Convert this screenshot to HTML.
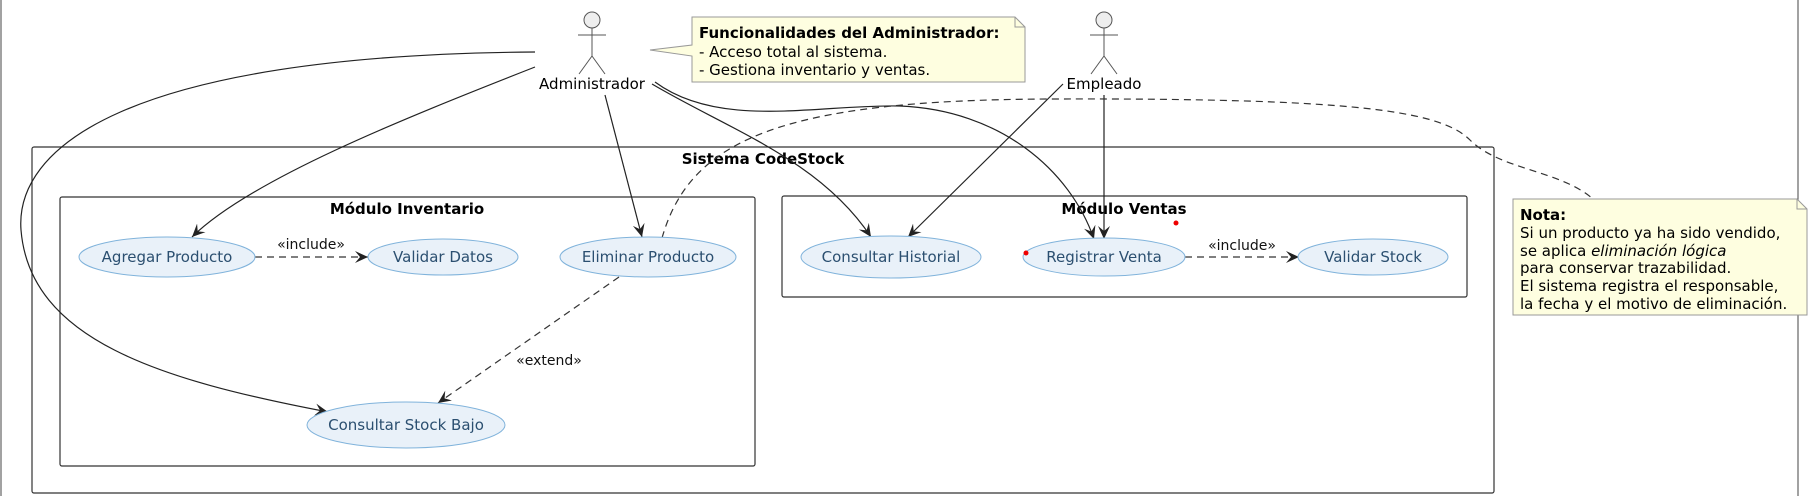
<!DOCTYPE html>
<html><head><meta charset="utf-8"><style>
html,body{margin:0;padding:0;background:#fff;}
svg{display:block;font-family:"DejaVu Sans","Liberation Sans",sans-serif;}
.uc{fill:#e9f1f9;stroke:#80b3db;stroke-width:1;}
.ut{fill:#2b4f70;font-size:15px;text-anchor:middle;}
.ln{fill:none;stroke:#222;stroke-width:1.2;}
.ds{fill:none;stroke:#333;stroke-width:1.2;stroke-dasharray:7,5;}
.lbl{font-size:14px;fill:#111;text-anchor:middle;}
</style></head><body>
<svg width="1813" height="496" viewBox="0 0 1813 496" xmlns="http://www.w3.org/2000/svg">
<defs>
<marker id="a" markerWidth="16" markerHeight="14" refX="13" refY="6" orient="auto" markerUnits="userSpaceOnUse">
<path d="M0,0 L13,6 L0,12 L5,6 z" fill="#222"/>
</marker>
</defs>
<line x1="1" y1="0" x2="1" y2="496" stroke="#444"/>
<line x1="1798" y1="0" x2="1798" y2="496" stroke="#444"/>

<rect x="32" y="147" width="1462" height="346" rx="2" fill="none" stroke="#333" stroke-width="1.2"/>
<text x="763" y="164" font-size="15" font-weight="bold" text-anchor="middle">Sistema CodeStock</text>
<rect x="60" y="197" width="695" height="269" rx="2" fill="none" stroke="#333" stroke-width="1.2"/>
<text x="407" y="214" font-size="15" font-weight="bold" text-anchor="middle">Módulo Inventario</text>
<rect x="782" y="196" width="685" height="101" rx="2" fill="none" stroke="#333" stroke-width="1.2"/>
<text x="1124" y="214" font-size="15" font-weight="bold" text-anchor="middle">Módulo Ventas</text>

<g stroke="#555" stroke-width="1" fill="none">
<circle cx="592" cy="20" r="8" fill="#eee"/>
<line x1="592" y1="28" x2="592" y2="56"/><line x1="578" y1="35" x2="606" y2="35"/>
<line x1="592" y1="56" x2="579" y2="74"/><line x1="592" y1="56" x2="605" y2="74"/>
<circle cx="1104" cy="20" r="8" fill="#eee"/>
<line x1="1104" y1="28" x2="1104" y2="56"/><line x1="1090" y1="35" x2="1118" y2="35"/>
<line x1="1104" y1="56" x2="1091" y2="74"/><line x1="1104" y1="56" x2="1117" y2="74"/>
</g>
<text x="592" y="89" font-size="15" text-anchor="middle">Administrador</text>
<text x="1104" y="89" font-size="15" text-anchor="middle">Empleado</text>

<path d="M692,17 L1015,17 L1025,27 L1025,82 L692,82 L692,56 L650,50 L692,45 Z" fill="#fefee0" stroke="#999"/>
<path d="M1015,17 L1015,27 L1025,27" fill="none" stroke="#999"/>
<text x="699" y="38" font-size="15" font-weight="bold">Funcionalidades del Administrador:</text>
<text x="699" y="57" font-size="15">- Acceso total al sistema.</text>
<text x="699" y="75" font-size="15">- Gestiona inventario y ventas.</text>

<path d="M1513,199 L1797,199 L1807,209 L1807,315 L1513,315 Z" fill="#fefee0" stroke="#999"/>
<path d="M1797,199 L1797,209 L1807,209" fill="none" stroke="#999"/>
<g font-size="15">
<text x="1520" y="220" font-weight="bold">Nota:</text>
<text x="1520" y="238">Si un producto ya ha sido vendido,</text>
<text x="1520" y="256">se aplica <tspan font-style="italic">eliminación lógica</tspan></text>
<text x="1520" y="273">para conservar trazabilidad.</text>
<text x="1520" y="291">El sistema registra el responsable,</text>
<text x="1520" y="309">la fecha y el motivo de eliminación.</text>
</g>

<path class="ln" d="M535,52 C120,55 15,150 21,230 C30,340 160,380 328,412" marker-end="url(#a)"/>
<path class="ln" d="M535,67 C400,120 250,180 192,237" marker-end="url(#a)"/>
<path class="ln" d="M605,95 L642,237" marker-end="url(#a)"/>
<path class="ln" d="M652,84 C730,130 820,160 871,237" marker-end="url(#a)"/>
<path class="ln" d="M655,82 C720,130 820,104 900,106 C1000,110 1070,170 1094,239" marker-end="url(#a)"/>
<path class="ln" d="M1063,84 L908,237" marker-end="url(#a)"/>
<path class="ln" d="M1104,95 L1104,239" marker-end="url(#a)"/>
<path class="ds" d="M662,238 C690,140 780,100 1050,99 C1350,98 1440,110 1470,140 C1500,170 1560,170 1593,199"/>
<path class="ds" d="M255,257 L368,257" marker-end="url(#a)"/>
<path class="ds" d="M1185,257 L1299,257" marker-end="url(#a)"/>
<path class="ds" d="M619,277 L438,403" marker-end="url(#a)"/>
<text class="lbl" x="311" y="249">«include»</text>
<text class="lbl" x="1242" y="250">«include»</text>
<text class="lbl" x="549" y="365">«extend»</text>

<ellipse class="uc" cx="167" cy="257" rx="88" ry="20"/><text class="ut" x="167" y="262">Agregar Producto</text>
<ellipse class="uc" cx="443" cy="257" rx="75" ry="18"/><text class="ut" x="443" y="262">Validar Datos</text>
<ellipse class="uc" cx="648" cy="257" rx="88" ry="20"/><text class="ut" x="648" y="262">Eliminar Producto</text>
<ellipse class="uc" cx="406" cy="425" rx="99" ry="23"/><text class="ut" x="406" y="430">Consultar Stock Bajo</text>
<ellipse class="uc" cx="891" cy="257" rx="90" ry="21"/><text class="ut" x="891" y="262">Consultar Historial</text>
<ellipse class="uc" cx="1104" cy="257" rx="81" ry="19"/><text class="ut" x="1104" y="262">Registrar Venta</text>
<ellipse class="uc" cx="1373" cy="257" rx="75" ry="18"/><text class="ut" x="1373" y="262">Validar Stock</text>
<circle cx="1176" cy="223" r="2.5" fill="#e00"/>
<circle cx="1026" cy="253" r="2.5" fill="#e00"/>
</svg>
</body></html>
